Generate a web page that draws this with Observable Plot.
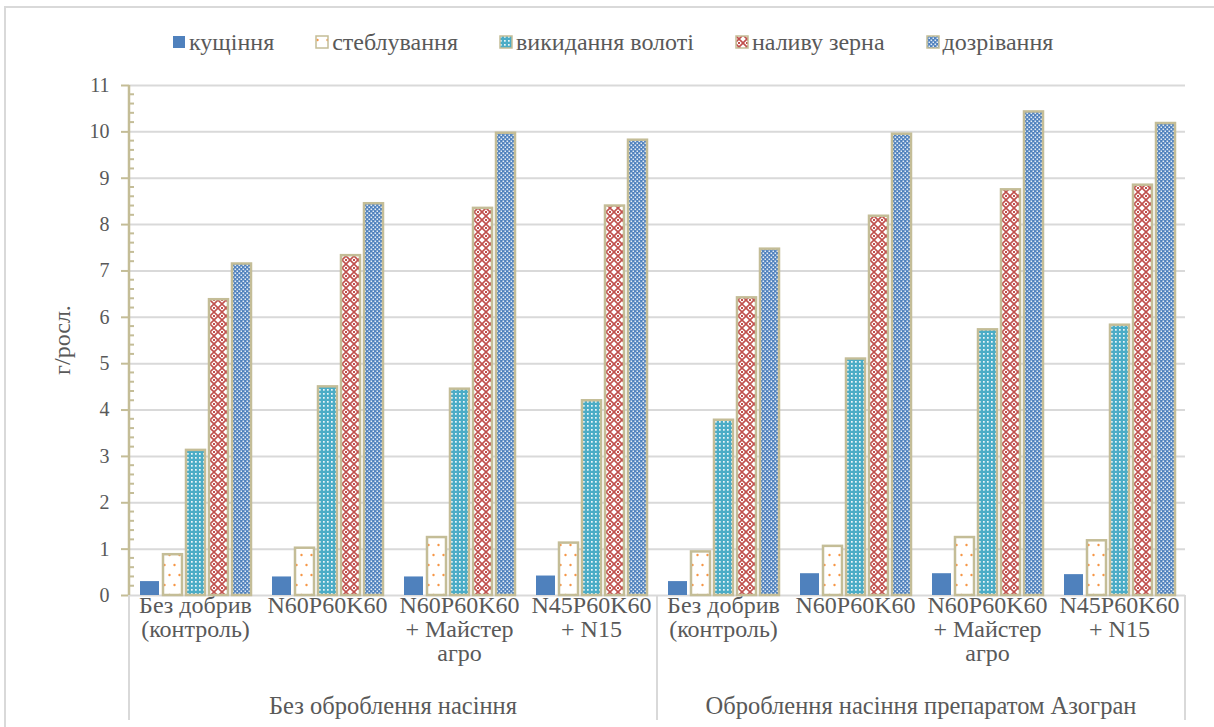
<!DOCTYPE html>
<html>
<head>
<meta charset="utf-8">
<script src="https://cdn.jsdelivr.net/npm/d3@7"></script>
<script src="https://cdn.jsdelivr.net/npm/@observablehq/plot@0.6"></script>
<style>
  html, body { margin: 0; padding: 0; background: #fff; overflow: hidden; }
  body { width: 1214px; height: 727px; position: relative;
         font-family: "Liberation Serif", "Times New Roman", serif; }
  #frame { position: absolute; left: 4px; top: 6px; width: 1300px; height: 800px;
           border-top: 2px solid #d9d9d9; border-left: 2px solid #d9d9d9; }
  #legend { position: absolute; top: 27px; left: 172px; height: 30px;
            display: flex; justify-content: flex-start; align-items: center; gap: 41px;
            font-size: 24px; color: #595959; }
  #legend .item { display: inline-flex; align-items: center; white-space: nowrap; }
  #legend svg { margin-right: 3px; }
  #chart { position: absolute; left: 0; top: 60px; }
</style>
</head>
<body>
<svg width="0" height="0" style="position:absolute">
  <defs>
    <pattern id="pat-stem" patternUnits="userSpaceOnUse" width="10" height="20">
      <rect width="10" height="20" fill="#fff"/>
      <circle cx="2.5" cy="5" r="1.2" fill="#f79646"/>
      <circle cx="7.5" cy="15" r="1.2" fill="#f79646"/>
    </pattern>
    <pattern id="pat-head" patternUnits="userSpaceOnUse" width="4" height="4">
      <rect width="4" height="4" fill="#4bacc6"/>
      <rect x="1" y="1" width="1.7" height="1.7" fill="#fff" fill-opacity="0.9"/>
    </pattern>
    <pattern id="pat-grain" patternUnits="userSpaceOnUse" width="8" height="8">
      <rect width="8" height="8" fill="#fff"/>
      <path d="M0,0L8,8M8,0L0,8" stroke="#c0504d" stroke-width="1.6"/>
      <rect x="3" y="0" width="2" height="1" fill="#c0504d"/>
      <rect x="3" y="7" width="2" height="1" fill="#c0504d"/>
    </pattern>
    <pattern id="pat-ripe" patternUnits="userSpaceOnUse" width="4" height="4">
      <rect width="4" height="4" fill="#4f81bd"/>
      <rect x="0.5" y="0.5" width="1.6" height="1.6" fill="#fff" fill-opacity="0.85"/>
      <rect x="2.5" y="2.5" width="1.6" height="1.6" fill="#fff" fill-opacity="0.85"/>
    </pattern>
  </defs>
</svg>
<div id="frame"></div>
<div id="legend"></div>
<div id="chart"></div>
<script>
// Growth stages (series)
const stages = ["кущіння", "стеблування", "викидання волоті", "наливу зерна", "дозрівання"];
// Seed treatment (outer category level)
const treatments = ["Без оброблення насіння", "Оброблення насіння препаратом Азогран"];
// Fertilizer variants (inner category level), repeated for each treatment
const fertilizers = ["Без добрив\n(контроль)", "N60P60K60", "N60P60K60\n+ Майстер\nагро", "N45P60K60\n+ N15"];
// Y tick values
const yTicks = [0, 1, 2, 3, 4, 5, 6, 7, 8, 9, 10, 11];

// Dry matter, g per plant, in order: 4 fertilizers × 2 treatments
const tillering = [0.30, 0.40, 0.40, 0.42, 0.30, 0.47, 0.47, 0.45];
const stemming  = [0.88, 1.02, 1.25, 1.13, 0.94, 1.06, 1.25, 1.18];
const heading   = [3.13, 4.50, 4.45, 4.20, 3.78, 5.10, 5.73, 5.83];
const grainFill = [6.38, 7.33, 8.35, 8.40, 6.42, 8.18, 8.75, 8.85];
const ripening  = [7.15, 8.45, 9.97, 9.82, 7.47, 9.95, 10.43, 10.18];

const series = [tillering, stemming, heading, grainFill, ripening];
const fills = ["#4f81bd", "url(#pat-stem)", "url(#pat-head)", "url(#pat-grain)", "url(#pat-ripe)"];
const khaki = "#c4bd97";
const textColor = "#595959";
const serif = "'Liberation Serif', 'Times New Roman', serif";

// Unique facet keys: treatment index + fertilizer index
const keys = [];
const keyLabel = new Map();
treatments.forEach((t, ti) => fertilizers.forEach((f, fi) => {
  const k = `${ti}-${fi}`;
  keys.push(k);
  keyLabel.set(k, f);
}));

const rows = [];
keys.forEach((k, i) => stages.forEach((s, si) => rows.push({key: k, stage: s, value: series[si][i]})));

const plot = Plot.plot({
  width: 1214,
  height: 667,
  marginTop: 25,
  marginBottom: 132,
  marginLeft: 127,
  marginRight: 27,
  style: {fontFamily: serif, fontSize: "20px", color: textColor, background: "transparent"},
  fx: {domain: keys, padding: 0, label: null},
  x: {domain: stages, paddingInner: 0.18, paddingOuter: 0.44, axis: null},
  y: {domain: [0, 11], label: null},
  color: {domain: stages, range: fills},
  marks: [
    Plot.gridY(yTicks.slice(1), {stroke: "#d9d9d9", strokeOpacity: 1, strokeWidth: 2}),
    Plot.ruleY([0], {stroke: "#d9d9d9", strokeWidth: 2}),
    Plot.axisY(yTicks, {tickSize: 8, tickPadding: 12, stroke: khaki, strokeWidth: 2, strokeOpacity: 1,
                        fill: textColor, fontSize: 20, label: null}),
    Plot.axisFx({anchor: "bottom", tickSize: 0, tickPadding: 0, fontSize: 24, lineHeight: 1, fill: textColor,
                 tickFormat: k => keyLabel.get(k), label: null}),
    Plot.barY(rows.filter(d => d.stage !== stages[0]),
              {fx: "key", x: "stage", y: "value", fill: "stage", stroke: khaki, strokeWidth: 2.5, inset: 0}),
    Plot.barY(rows.filter(d => d.stage === stages[0]),
              {fx: "key", x: "stage", y: "value", fill: "stage", inset: 0})
  ]
});

// Extra chart furniture drawn with the plot's own scales
const svg = d3.select(plot);
const fx = plot.scale("fx");
const y = plot.scale("y");
const bw = fx.bandwidth;
const x0 = fx.apply(keys[0]);
const g = svg.append("g").attr("font-family", serif);

// Category separators below the axis
const bottom = 660;
[x0, fx.apply(keys[4]), fx.apply(keys[7]) + bw].forEach(xv => {
  g.append("line").attr("x1", xv).attr("x2", xv).attr("y1", y.apply(0)).attr("y2", bottom)
    .attr("stroke", "#d9d9d9").attr("stroke-width", 2);
});

// Value axis line with minor ticks every 0.2
g.append("line").attr("x1", x0).attr("x2", x0).attr("y1", y.apply(0)).attr("y2", y.apply(11))
  .attr("stroke", khaki).attr("stroke-width", 2.5);
d3.range(0, 55).filter(i => i % 5 !== 0).forEach(i => {
  const yv = y.apply(i / 5);
  g.append("line").attr("x1", x0).attr("x2", x0 + 5).attr("y1", yv).attr("y2", yv)
    .attr("stroke", khaki).attr("stroke-width", 2);
});

// Treatment labels
treatments.forEach((t, ti) => {
  const a = fx.apply(keys[ti * 4]);
  const b = fx.apply(keys[ti * 4 + 3]) + bw;
  g.append("text").attr("x", (a + b) / 2).attr("y", 645)
    .attr("text-anchor", "middle").attr("dominant-baseline", "central")
    .attr("fill", textColor).attr("font-size", 24.5).text(t);
});

// Y axis title
g.append("text").attr("transform", "translate(62,280) rotate(-90)")
  .attr("text-anchor", "middle").attr("dominant-baseline", "central")
  .attr("fill", textColor).attr("font-size", 24).text("г/росл.");

document.getElementById("chart").append(plot);

// Legend
const legend = d3.select("#legend");
stages.forEach((s, i) => {
  const item = legend.append("div").attr("class", "item");
  const sw = item.append("svg").attr("width", 14).attr("height", 14);
  sw.append("rect").attr("x", 1).attr("y", 1).attr("width", 12).attr("height", 12)
    .attr("fill", fills[i]).attr("stroke", i === 0 ? "none" : khaki).attr("stroke-width", 1.5);
  item.append("span").text(s);
});
</script>
</body>
</html>
